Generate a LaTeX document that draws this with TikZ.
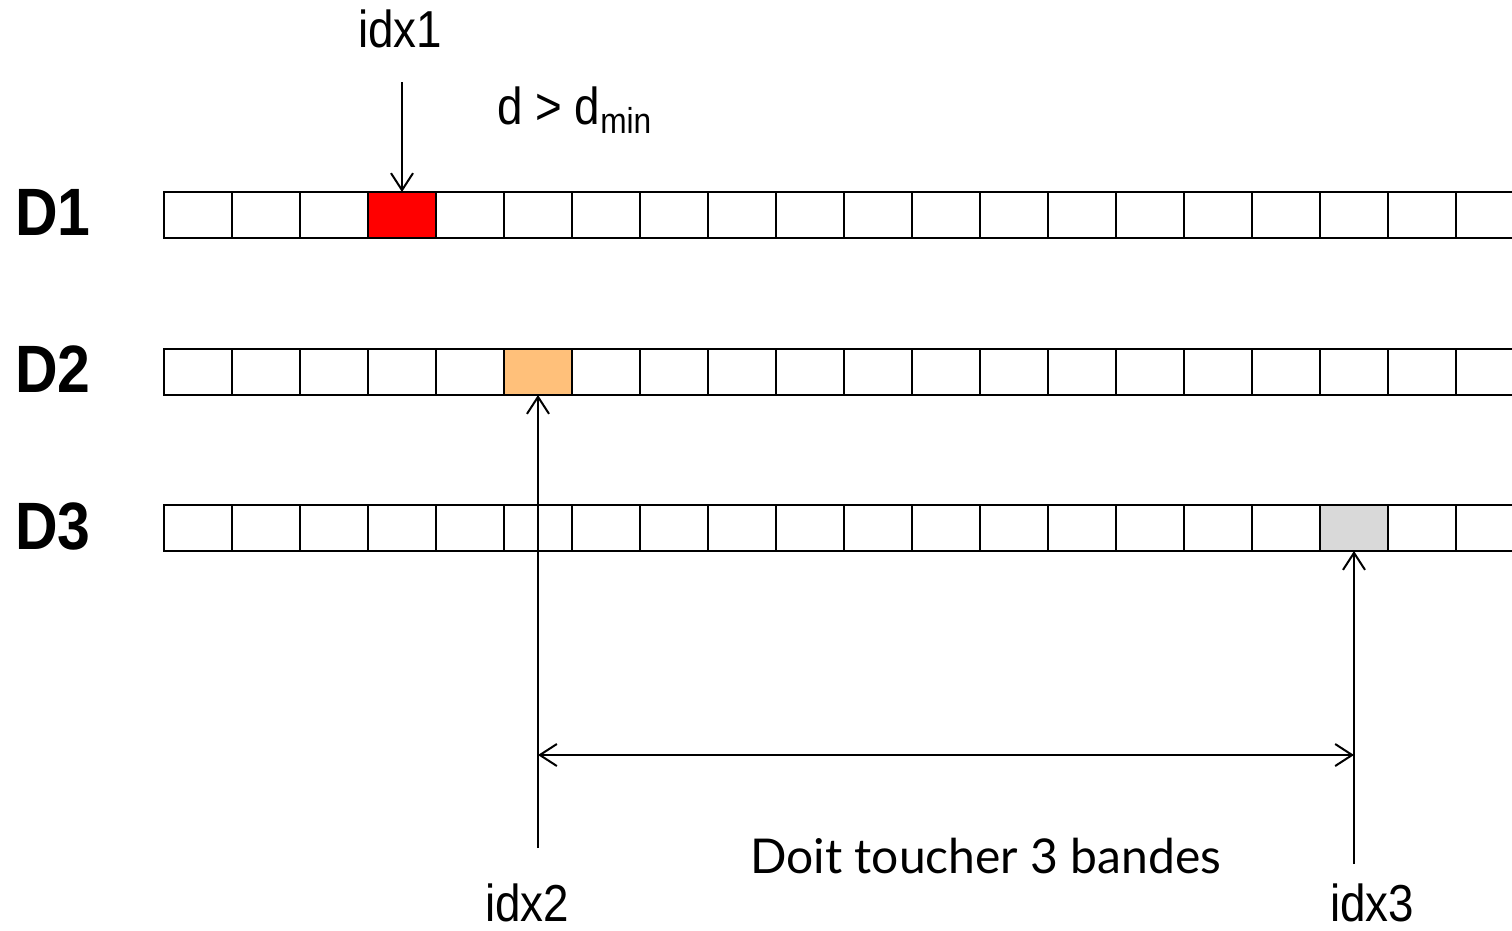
\documentclass[tikz,border=0pt]{standalone}
\usepackage{fontspec}
\setmainfont{Liberation Sans}
\newfontfamily\notefont{Lato}
\usetikzlibrary{arrows.meta}
\definecolor{hitred}{RGB}{255,0,0}
\definecolor{peach}{RGB}{255,192,122}
\definecolor{palegrey}{RGB}{217,217,217}
\newcommand{\narrow}[1]{\scalebox{0.88}[1]{#1}}
\tikzset{
  cell/.style={draw=black, line width=2pt, minimum width=68pt, minimum height=46pt,
    inner sep=0pt, outer sep=0pt, fill=white},
  cell 1-3/.style={fill=hitred},
  cell 2-5/.style={fill=peach},
  cell 3-17/.style={fill=palegrey},
  rowlabel/.style={anchor=base west, inner sep=0pt, font=\bfseries\fontsize{67}{67}\selectfont},
  idxlabel/.style={anchor=base, inner sep=0pt, font=\fontsize{52}{52}\selectfont},
  pointer/.style={line width=2pt, -{Straight Barb[length=17pt, width=22pt]}},
  span/.style={line width=2pt, {Straight Barb[length=17pt, width=22pt]}-{Straight Barb[length=17pt, width=22pt]}},
}
\begin{document}
\begin{tikzpicture}[x=1pt, y=-1pt]
  \useasboundingbox (0,0) rectangle (1512,930);
  \fill[white] (0,0) rectangle (1512,930);

  % three rows of cells
  \begin{scope}
    \clip (0,0) rectangle (1512,930);
    \foreach \r/\y in {1/215, 2/372, 3/528} {
      \foreach \i in {0,...,19} {
        \node[cell, cell \r-\i/.try] (c\r-\i) at ({198+68*\i}, \y) {};
      }
    }
  \end{scope}

  % row labels
  \node[rowlabel] (lab1) at (15,235) {\narrow{D1}};
  \node[rowlabel] (lab2) at (15,392) {\narrow{D2}};
  \node[rowlabel] (lab3) at (15,549) {\narrow{D3}};

  % index labels
  \node[idxlabel] (idx1) at (400,47) {\narrow{idx1}};
  \node[idxlabel] (idx2) at (527,921) {\narrow{idx2}};
  \node[idxlabel] (idx3) at (1372,921) {\narrow{idx3}};
  \node[idxlabel, anchor=base west] (dist) at (497,124)
    {\narrow{d > d\raisebox{-9pt}{\fontsize{36}{36}\selectfont min}}};

  % pointer arrows
  \coordinate (p1) at (c1-3.north |- 0,82);
  \coordinate (p2) at (c2-5.south |- 0,848);
  \coordinate (p3) at (c3-17.south |- 0,864);
  \draw[pointer] (p1) -- (c1-3.north);
  \draw[pointer] (p2) -- (c2-5.south);
  \draw[pointer] (p3) -- (c3-17.south);

  % span between idx2 and idx3
  \coordinate (s2) at (c2-5.south |- 0,755);
  \coordinate (s3) at (c3-17.south |- 0,755);
  \draw[span] (s2) -- (s3);

  \node[anchor=base west, inner sep=0pt, font=\notefont\fontsize{48}{48}\selectfont]
    (note) at (750,873) {Doit toucher 3 bandes};
\end{tikzpicture}
\end{document}
